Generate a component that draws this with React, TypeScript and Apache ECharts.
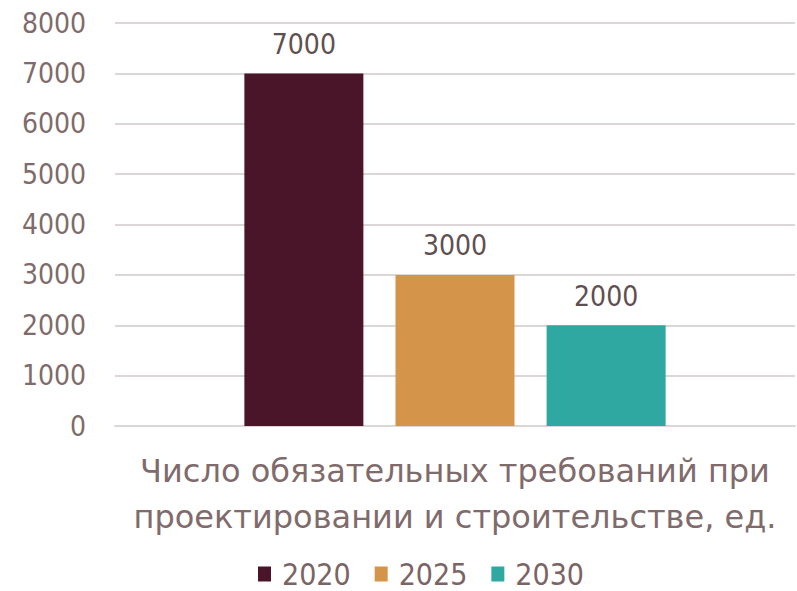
import React, { useEffect, useRef } from "react";
import * as echarts from "echarts";

const categories = ["Число обязательных требований при\nпроектировании и строительстве, ед."];
const seriesNames = ["2020", "2025", "2030"];
const values2020 = [7000];
const values2025 = [3000];
const values2030 = [2000];
const colors = ["#4a1529", "#d4954a", "#2ea8a0"];

const FONT = "'DejaVu Sans Condensed', 'DejaVu Sans', sans-serif";
const FONT_WIDE = "'DejaVu Sans', sans-serif";

export default function App() {
  const ref = useRef<HTMLDivElement>(null);
  useEffect(() => {
    if (!ref.current) return;
    const chart = echarts.init(ref.current, null, { renderer: "svg" });
    const data = [values2020, values2025, values2030];
    chart.setOption({
      animation: false,
      textStyle: { fontFamily: FONT },
      grid: { left: 115, right: 2, top: 23, bottom: 165 },
      legend: {
        top: 559,
        left: 258,
        padding: 0,
        icon: "rect",
        itemWidth: 13,
        itemHeight: 15,
        itemGap: 24,
        textStyle: {
          fontFamily: FONT,
          fontSize: 30,
          lineHeight: 30,
          color: "#7a6464",
          padding: [0, 0, 0, 6],
        },
        data: seriesNames,
      },
      xAxis: {
        type: "category",
        data: categories,
        axisLine: { lineStyle: { color: "#dcd6d6", width: 2 } },
        axisTick: { show: false },
        axisLabel: {
          margin: 22,
          fontFamily: FONT_WIDE,
          fontSize: 32,
          lineHeight: 46,
          color: "#7f6b6b",
        },
      },
      yAxis: {
        type: "value",
        min: 0,
        max: 8000,
        interval: 1000,
        axisLine: { show: false },
        axisTick: { show: false },
        splitLine: { lineStyle: { color: "#dcd6d6", width: 2 } },
        axisLabel: {
          margin: 29,
          fontFamily: FONT,
          fontSize: 28,
          color: "#7f6b6b",
          formatter: (v: number) => String(v),
        },
      },
      series: seriesNames.map((name, i) => ({
        name,
        type: "bar",
        data: data[i],
        barWidth: 119,
        barGap: "27%",
        itemStyle: { color: colors[i] },
        label: {
          show: true,
          position: "top",
          distance: 15,
          fontFamily: FONT,
          fontSize: 28,
          color: "#5f4f4f",
        },
      })),
    });
    return () => chart.dispose();
  }, []);
  return (
    <div
      ref={ref}
      style={{ position: "fixed", left: 0, top: 0, width: 797, height: 591, background: "#fff" }}
    />
  );
}
